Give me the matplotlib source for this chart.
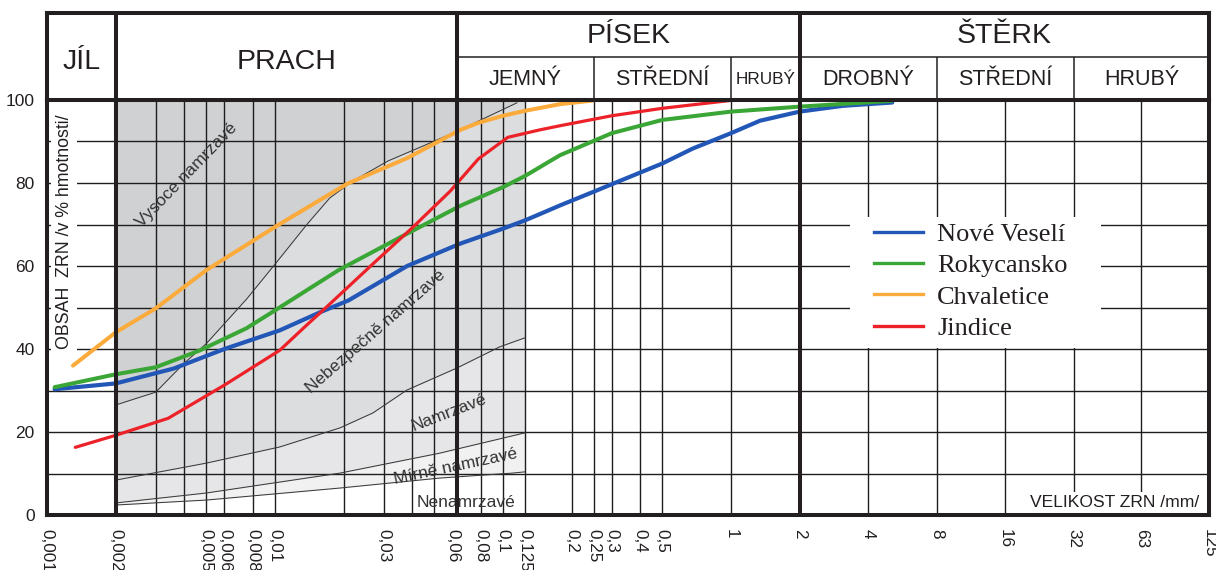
import matplotlib
matplotlib.use('Agg')
import matplotlib.pyplot as plt
from matplotlib.lines import Line2D
from matplotlib.patches import Rectangle
from matplotlib.ticker import NullLocator

plt.rcParams['font.family'] = ['Liberation Sans', 'DejaVu Sans']

# ---------------- data ----------------
series_names = ['Nové Veselí', 'Rokycansko', 'Chvaletice', 'Jindice']

nv_x = [0.00108, 0.002, 0.0036, 0.006, 0.0105, 0.016, 0.021, 0.038, 0.065, 0.1, 0.125, 0.145, 0.178,
        0.25, 0.3, 0.5, 0.68, 1.0, 1.34, 2.0, 3.1, 5.1]
nv_y = [30.3, 31.7, 35.3, 40, 44.5, 49, 51.7, 60, 65.4, 69, 71, 72.5, 74.6,
        77.9, 79.7, 84.7, 88.3, 92, 95.0, 97.2, 98.6, 99.4]

rk_x = [0.00108, 0.002, 0.003, 0.0047, 0.0075, 0.0098, 0.019, 0.038, 0.065, 0.1, 0.125, 0.16, 0.178,
        0.3, 0.5, 1.0, 2.0, 5.1]
rk_y = [30.8, 33.9, 35.6, 39.7, 45, 49, 59, 67.8, 74.5, 79, 81.7, 85.2, 86.7,
        92.0, 95.2, 97.2, 98.4, 99.8]

ch_x = [0.0013, 0.002, 0.003, 0.005, 0.0102, 0.0207, 0.038, 0.065, 0.078, 0.1, 0.125, 0.178, 0.25]
ch_y = [36, 44, 49.8, 59, 69.7, 79.8, 86, 92.8, 94.5, 96.2, 97.4, 99, 99.9]

jd_x = [0.00133, 0.002, 0.0034, 0.006, 0.0105, 0.0138, 0.0169, 0.027, 0.04, 0.0586, 0.078, 0.105,
        0.145, 0.178, 0.3, 0.5, 1.0]
jd_y = [16.3, 19.2, 23.3, 31.3, 39.7, 45.8, 50.2, 60.6, 69.2, 78, 85.8, 91,
        92.8, 93.8, 96.2, 98, 99.9]

# frost-susceptibility boundary curves
c1_x = [0.002, 0.003, 0.004, 0.005, 0.0075, 0.0102, 0.0138, 0.0174, 0.022, 0.0313, 0.045, 0.063, 0.115]
c1_y = [26.5, 29.6, 36.6, 41.3, 52, 61, 70, 76.4, 80.5, 85.3, 89, 92.5, 99.3]
c2_x = [0.002, 0.005, 0.0105, 0.0193, 0.0269, 0.0379, 0.0627, 0.0966, 0.125]
c2_y = [8.4, 12.5, 16.4, 21, 24.6, 30.1, 35.4, 40.5, 42.7]
c3_x = [0.002, 0.005, 0.0193, 0.0528, 0.125]
c3_y = [2.9, 5.3, 10.1, 14.9, 19.8]
c4_x = [0.002, 0.005, 0.0193, 0.0528, 0.11, 0.125]
c4_y = [2.4, 3.6, 6.5, 8.9, 10.1, 10.4]

zone_labels = ['Vysoce namrzavé', 'Nebezpečně namrzavé', 'Namrzavé', 'Mírně namrzavé', 'Nenamrzavé']

x_tick_vals = [0.001, 0.002, 0.005, 0.006, 0.008, 0.01, 0.03, 0.06, 0.08, 0.1, 0.125, 0.2, 0.25,
               0.3, 0.4, 0.5, 1, 2, 4, 8, 16, 32, 63, 125]
x_tick_labels = ['0,001', '0,002', '0,005', '0,006', '0,008', '0,01', '0,03', '0,06', '0,08', '0,1',
                 '0,125', '0,2', '0,25', '0,3', '0,4', '0,5', '1', '2', '4', '8', '16', '32', '63', '125']
x_grid = [0.003, 0.004, 0.005, 0.006, 0.008, 0.01, 0.02, 0.03, 0.04, 0.05, 0.08, 0.1, 0.125,
          0.2, 0.25, 0.3, 0.4, 0.5, 1, 4, 8, 16, 32, 63]
x_major_bounds = [0.002, 0.063, 2]
y_ticks = [0, 20, 40, 60, 80, 100]
y_grid = [10, 20, 30, 40, 50, 60, 70, 80, 90]

main_groups = ['JÍL', 'PRACH']
main_bounds = [(0.001, 0.002), (0.002, 0.063)]
top_groups = ['PÍSEK', 'ŠTĚRK']
top_bounds = [(0.063, 2), (2, 125)]
sub_groups = ['JEMNÝ', 'STŘEDNÍ', 'HRUBÝ', 'DROBNÝ', 'STŘEDNÍ', 'HRUBÝ']
sub_bounds = [(0.063, 0.25), (0.25, 1), (1, 2), (2, 8), (8, 32), (32, 125)]

# ---------------- style ----------------
TXT = '#231f20'
GRID = '#1e1e1e'
colors = ['#2257b7', '#3aa636', '#fbab3c', '#ec2228']
widths = [3.0, 2.9, 2.9, 2.3]
zone_fill = ['#d0d1d3', '#dcdddf', '#e6e6e8', '#f1f1f2']
XMIN, XMAX = 0.001, 125
W, H = 1216, 570

fig = plt.figure(figsize=(W / 100, H / 100), dpi=100)
L, R = 47, 1209
ax = fig.add_axes([L / W, (H - 515) / H, (R - L) / W, (515 - 100) / H])
hx = fig.add_axes([L / W, (H - 100) / H, (R - L) / W, (100 - 13) / H])

for a in (ax, hx):
    a.set_xscale('log')
    a.set_xlim(XMIN, XMAX)
    for s in a.spines.values():
        s.set_linewidth(2.9)
        s.set_color(TXT)
        s.set_zorder(8)

ax.set_ylim(0, 100)

# --- frost zones shading
ax.fill_between([0.002, 0.125], 0, 100, color=zone_fill[0], lw=0, zorder=0.2)
poly = list(zip(c1_x, c1_y)) + [(0.125, 100), (0.125, 0), (0.002, 0)]
ax.fill([p[0] for p in poly], [p[1] for p in poly], color=zone_fill[1], lw=0, zorder=0.3)
ax.fill_between(c2_x, 0, c2_y, color=zone_fill[2], lw=0, zorder=0.4)
ax.fill_between(c3_x, 0, c3_y, color=zone_fill[3], lw=0, zorder=0.5)
ax.fill_between(c4_x, 0, c4_y, color='white', lw=0, zorder=0.6)
for cx, cy in ((c1_x, c1_y), (c2_x, c2_y), (c3_x, c3_y), (c4_x, c4_y)):
    ax.plot(cx, cy, color='#3a3a3a', lw=0.75, zorder=2)

# --- grid
ax.hlines(y_grid, XMIN, XMAX, color=GRID, lw=1.0, zorder=1)
ax.vlines(x_grid, 0, 100, color=GRID, lw=1.0, zorder=1)
ax.vlines(x_major_bounds, 0, 100, color=TXT, lw=2.9, zorder=7)

# --- zone labels
zone_pos = [(0.00411, 81.9, 46), (0.0277, 44.1, 41), (0.0580, 24.6, 21), (0.0622, 11.8, 12), (0.0688, 2.9, 0)]
for lab, (zx, zy, rot) in zip(zone_labels, zone_pos):
    ax.text(zx, zy, lab, rotation=rot, ha='center', va='center', fontsize=12.5,
            color='#333333', zorder=3)

# --- data series
all_x = [nv_x, rk_x, ch_x, jd_x]
all_y = [nv_y, rk_y, ch_y, jd_y]
handles = []
for xs, ys, c, lw, nm in zip(all_x, all_y, colors, widths, series_names):
    ax.plot(xs, ys, color=c, lw=lw, solid_capstyle='round', solid_joinstyle='round', zorder=5, label=nm)
    handles.append(Line2D([], [], color=c, lw=2.4))

# legend white panel
ax.add_patch(Rectangle((0.691, 0.402), 0.216, 0.316, transform=ax.transAxes,
                       facecolor='white', edgecolor='none', zorder=8.5))
leg = ax.legend(handles, series_names, loc='upper left', bbox_to_anchor=(0.7117, 0.705),
                prop={'family': 'Liberation Serif', 'size': 19}, frameon=False,
                handlelength=1.85, handletextpad=0.55, labelspacing=0.3, borderpad=0.0,
                borderaxespad=0)
leg.set_zorder(9)
for t in leg.get_texts():
    t.set_color(TXT)

# --- axis labels
ax.text(0.00119, 68.3, 'OBSAH  ZRN /v % hmotnosti/', rotation=90, ha='center', va='center',
        fontsize=12.8, color=TXT, zorder=6,
        bbox=dict(boxstyle='square,pad=0.25', fc='white', ec='none'))
ax.text(0.992, 0.03, 'VELIKOST ZRN /mm/', transform=ax.transAxes, ha='right', va='center',
        fontsize=12.6, color=TXT, zorder=6,
        bbox=dict(boxstyle='square,pad=0.2', fc='white', ec='none'))

# --- ticks
ax.xaxis.set_minor_locator(NullLocator())
ax.set_xticks(x_tick_vals)
ax.set_xticklabels(x_tick_labels, rotation=-90, fontsize=12.3, color=TXT)
ax.set_yticks(y_ticks)
ax.set_yticklabels([str(v) for v in y_ticks], fontsize=12.5, color=TXT)
ax.tick_params(axis='both', length=0)
ax.tick_params(axis='x', pad=10)
ax.tick_params(axis='y', pad=9)

# --- header
hx.set_ylim(0, 2)
hx.set_xticks([])
hx.set_yticks([])
hx.xaxis.set_minor_locator(NullLocator())
hx.vlines(x_major_bounds, 0, 2, color=TXT, lw=2.9, zorder=7)
hx.hlines(1.0, 0.063, XMAX, color=TXT, lw=1.1)
for (a0, a1) in sub_bounds[:-1]:
    if a1 not in x_major_bounds:
        hx.vlines(a1, 0, 1.0, color=TXT, lw=1.1)
for lab, (a0, a1) in zip(main_groups, main_bounds):
    hx.text((a0 * a1) ** 0.5, 0.88, lab, ha='center', va='center', fontsize=20.5, color=TXT)
for lab, (a0, a1) in zip(top_groups, top_bounds):
    hx.text((a0 * a1) ** 0.5, 1.46, lab, ha='center', va='center', fontsize=20.5, color=TXT)
for i, (lab, (a0, a1)) in enumerate(zip(sub_groups, sub_bounds)):
    fs = 12.3 if i == 2 else 15.5
    hx.text((a0 * a1) ** 0.5, 0.46, lab, ha='center', va='center', fontsize=fs, color=TXT)

fig.savefig('out.png', dpi=100, facecolor='white')
